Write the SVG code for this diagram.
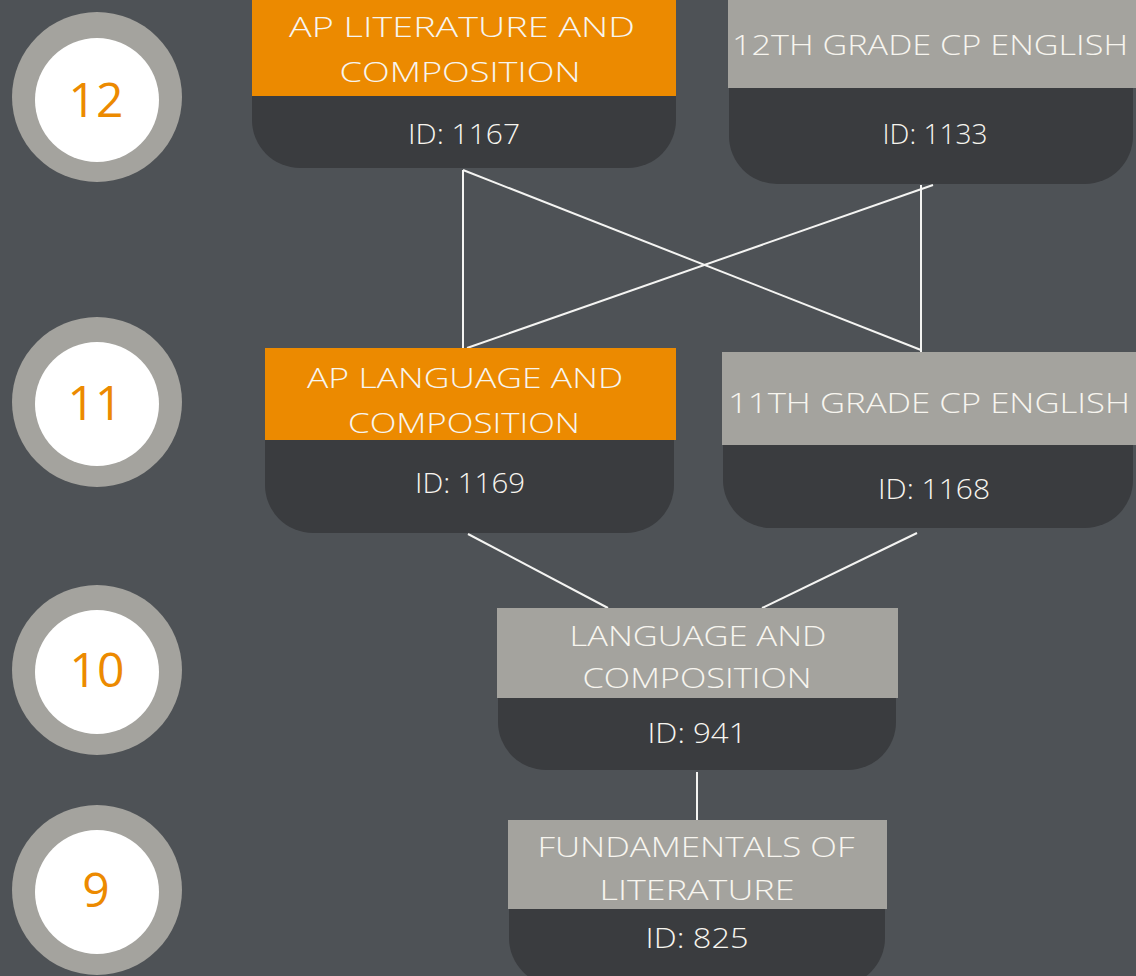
<svg xmlns="http://www.w3.org/2000/svg" width="1136" height="976" viewBox="0 0 1136 976">
<style>
.bg{fill:#4e5256}
.ring{fill:#a4a39e}
.inner{fill:#ffffff}
.num{fill:#ec8a00;font-family:"Open Sans","Liberation Sans",sans-serif;font-size:48px;font-weight:400;text-anchor:middle}
.dark{fill:#3a3c3f}
.orange{fill:#ec8a00}
.grey{fill:#a4a39e}
.t{fill:#f7f5ef;font-family:"Open Sans","Liberation Sans",sans-serif;font-size:28px;font-weight:300;text-anchor:middle}
.conn line{stroke:#f4f4f2;stroke-width:2}
</style>
<rect class="bg" x="0" y="0" width="1136" height="976"/>
<g id="grade12"><circle class="ring" cx="97" cy="97" r="85"/><circle class="inner" cx="97" cy="100" r="62"/><text class="num" x="96" y="117">12</text></g>
<g id="grade11"><circle class="ring" cx="97" cy="402" r="85"/><circle class="inner" cx="97" cy="404" r="62"/><text class="num" x="95" y="420">11</text></g>
<g id="grade10"><circle class="ring" cx="97" cy="670" r="85"/><circle class="inner" cx="97" cy="672" r="62"/><text class="num" x="97" y="687">10</text></g>
<g id="grade9"><circle class="ring" cx="97" cy="890" r="85"/><circle class="inner" cx="97" cy="892" r="62"/><text class="num" x="96" y="907">9</text></g>
<g class="conn" id="connectors">
<line x1="463" y1="170" x2="463" y2="348"/>
<line x1="463" y1="170" x2="921" y2="350"/>
<line x1="933" y1="185" x2="467" y2="348"/>
<line x1="921" y1="185" x2="921" y2="352"/>
<line x1="468" y1="534" x2="608" y2="608"/>
<line x1="917" y1="533" x2="762" y2="608"/>
<line x1="697" y1="772" x2="697" y2="820"/>
</g>
<g id="node-1167">
<rect class="dark" x="252" y="-60" width="424" height="228" rx="48"/>
<rect class="orange" x="252" y="0" width="424" height="96"/>
<text class="t" x="462" y="37" textLength="346" lengthAdjust="spacingAndGlyphs">AP LITERATURE AND</text>
<text class="t" x="460" y="82" textLength="241" lengthAdjust="spacingAndGlyphs">COMPOSITION</text>
<text class="t" x="464" y="144" textLength="112" lengthAdjust="spacingAndGlyphs">ID: 1167</text>
</g>
<g id="node-1133">
<rect class="dark" x="729" y="-60" width="404" height="244" rx="48"/>
<rect class="grey" x="728" y="0" width="410" height="88"/>
<text class="t" x="930" y="55" textLength="396" lengthAdjust="spacingAndGlyphs">12TH GRADE CP ENGLISH</text>
<text class="t" x="935" y="144" textLength="105" lengthAdjust="spacingAndGlyphs">ID: 1133</text>
</g>
<g id="node-1169">
<rect class="dark" x="265" y="348" width="409" height="185" rx="48"/>
<rect class="orange" x="265" y="348" width="411" height="92"/>
<text class="t" x="465" y="388" textLength="316" lengthAdjust="spacingAndGlyphs">AP LANGUAGE AND</text>
<text class="t" x="464" y="433" textLength="232" lengthAdjust="spacingAndGlyphs">COMPOSITION</text>
<text class="t" x="470" y="493" textLength="110" lengthAdjust="spacingAndGlyphs">ID: 1169</text>
</g>
<g id="node-1168">
<rect class="dark" x="723" y="352" width="410" height="176" rx="48"/>
<rect class="grey" x="722" y="352" width="416" height="93"/>
<text class="t" x="929" y="413" textLength="402" lengthAdjust="spacingAndGlyphs">11TH GRADE CP ENGLISH</text>
<text class="t" x="934" y="499" textLength="112" lengthAdjust="spacingAndGlyphs">ID: 1168</text>
</g>
<g id="node-941">
<rect class="dark" x="498" y="608" width="398" height="162" rx="48"/>
<rect class="grey" x="497" y="608" width="401" height="90"/>
<text class="t" x="698" y="646" textLength="257" lengthAdjust="spacingAndGlyphs">LANGUAGE AND</text>
<text class="t" x="697" y="688" textLength="229" lengthAdjust="spacingAndGlyphs">COMPOSITION</text>
<text class="t" x="697" y="743" textLength="99" lengthAdjust="spacingAndGlyphs">ID: 941</text>
</g>
<g id="node-825">
<rect class="dark" x="509" y="820" width="376" height="166" rx="48"/>
<rect class="grey" x="508" y="820" width="379" height="89"/>
<text class="t" x="696" y="857" textLength="317" lengthAdjust="spacingAndGlyphs">FUNDAMENTALS OF</text>
<text class="t" x="697" y="900" textLength="195" lengthAdjust="spacingAndGlyphs">LITERATURE</text>
<text class="t" x="697" y="948" textLength="103" lengthAdjust="spacingAndGlyphs">ID: 825</text>
</g>
</svg>
